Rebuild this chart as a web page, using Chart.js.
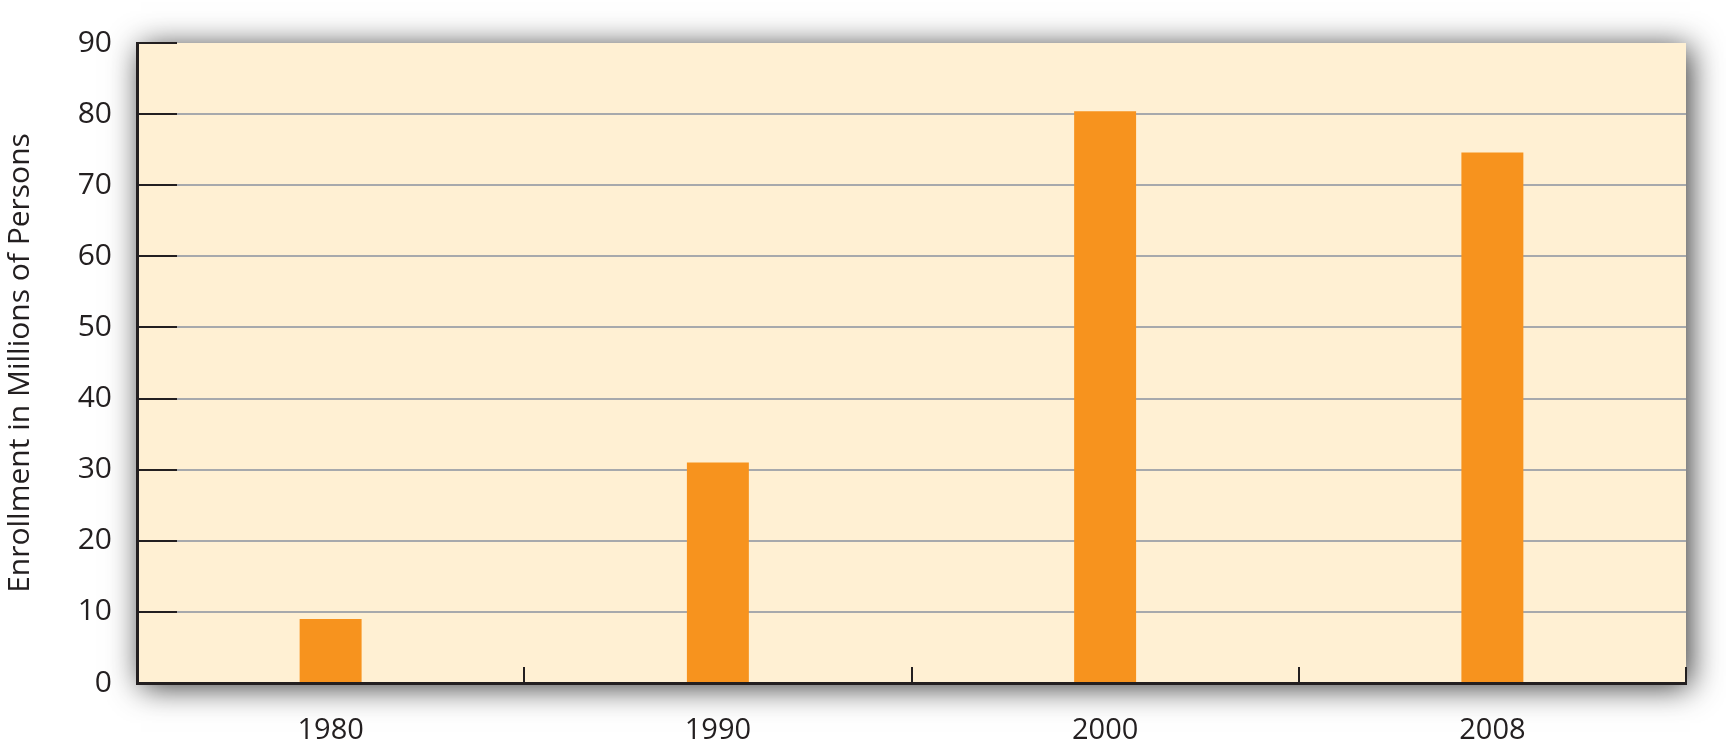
<!DOCTYPE html>
<html>
<head>
<meta charset="utf-8">
<script src="https://cdn.jsdelivr.net/npm/chart.js@4"></script>
<style>
  html, body { margin: 0; padding: 0; background: #ffffff; }
  #wrap { width: 1726px; height: 747px; }
</style>
</head>
<body>
<div id="wrap"><canvas id="enrollChart" width="1726" height="747"></canvas></div>
<script>
// Chart data
const years = ['1980', '1990', '2000', '2008'];
const enrollment = [9, 31, 80.4, 74.6];
const yMin = 0;
const yMax = 90;
const yStep = 10;
const yTitle = 'Enrollment in Millions of Persons';

const inkColor = '#231f20';
const paperColor = '#fff0d3';
const barColor = '#f7931e';
const gridColor = '#a7a9ac';

// Plot background with a soft drop shadow
const plotShadow = {
  id: 'plotShadow',
  beforeDraw(chart) {
    const { ctx, chartArea: a } = chart;
    ctx.save();
    ctx.shadowColor = 'rgba(0, 0, 0, 0.8)';
    ctx.shadowBlur = 30;
    ctx.shadowOffsetX = 4;
    ctx.shadowOffsetY = 4;
    ctx.fillStyle = paperColor;
    ctx.fillRect(a.left, a.top, a.right - a.left, a.bottom - a.top);
    ctx.restore();
  }
};

// Short dark tick marks drawn inside the plot
const innerTicks = {
  id: 'innerTicks',
  afterDraw(chart) {
    const { ctx, chartArea: a, scales } = chart;
    ctx.save();
    ctx.strokeStyle = inkColor;
    ctx.lineWidth = 2;
    // y ticks
    scales.y.ticks.forEach(t => {
      const y = Math.round(scales.y.getPixelForValue(t.value));
      ctx.beginPath();
      ctx.moveTo(a.left, y);
      ctx.lineTo(a.left + 40, y);
      ctx.stroke();
    });
    // x ticks between categories and at the right end
    const xs = scales.x;
    for (let i = 1; i <= years.length; i++) {
      let x;
      if (i < years.length) {
        x = (xs.getPixelForTick(i - 1) + xs.getPixelForTick(i)) / 2;
      } else {
        x = a.right;
      }
      x = Math.round(x);
      ctx.beginPath();
      ctx.moveTo(x, a.bottom);
      ctx.lineTo(x, a.bottom - 16);
      ctx.stroke();
    }
    ctx.restore();
  }
};

function initEnrollChart() {
  const ctx = document.getElementById('enrollChart');
  new Chart(ctx, {
    type: 'bar',
    data: {
      labels: years,
      datasets: [{
        label: 'Enrollment',
        data: enrollment,
        backgroundColor: barColor,
        borderWidth: 0,
        categoryPercentage: 1,
        barPercentage: 0.16
      }]
    },
    options: {
      responsive: false,
      animation: false,
      layout: { padding: { top: 43, right: 40, left: 0, bottom: 0 } },
      plugins: {
        legend: { display: false },
        tooltip: { enabled: false }
      },
      scales: {
        x: {
          grid: { display: false },
          border: { display: true, color: inkColor, width: 3 },
          ticks: {
            color: inkColor,
            padding: 22,
            font: { family: 'Open Sans', size: 29 }
          },
          afterFit(scale) { scale.height = 64; }
        },
        y: {
          min: yMin,
          max: yMax,
          grid: {
            drawTicks: false,
            color: c => (c.tick.value === yMin || c.tick.value === yMax) ? 'rgba(0,0,0,0)' : gridColor,
            lineWidth: 2
          },
          border: { display: true, color: inkColor, width: 3 },
          ticks: {
            stepSize: yStep,
            color: inkColor,
            padding: 25,
            font: { family: 'Open Sans', size: 30 }
          },
          title: {
            display: true,
            text: yTitle,
            color: inkColor,
            padding: { top: 2, bottom: 0 },
            font: { family: 'Open Sans', size: 30 }
          },
          afterFit(scale) { scale.width = 137; }
        }
      }
    },
    plugins: [plotShadow, innerTicks]
  });
}

initEnrollChart();
</script>
</body>
</html>
